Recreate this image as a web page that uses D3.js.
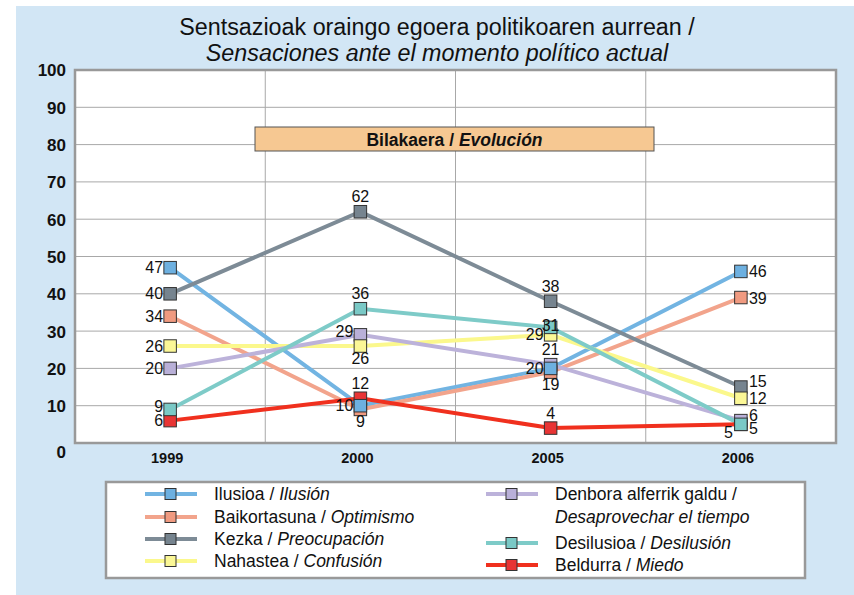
<!DOCTYPE html>
<html lang="eu">
<head>
<meta charset="utf-8">
<script src="https://d3js.org/d3.v7.min.js"></script>
<style>
  body { margin: 0; background: #fff; }
  text { font-family: "Liberation Sans", Arial, sans-serif; }
</style>
</head>
<body>
<div id="canvas"></div>
<script>
  // data
  var years = ["1999", "2000", "2005", "2006"];
  var yTicks = [0, 10, 20, 30, 40, 50, 60, 70, 80, 90, 100];

  var ilusioa      = [47, 10, 20, 46];
  var baikortasuna = [34, 9, 19, 39];
  var kezka        = [40, 62, 38, 15];
  var nahastea     = [26, 26, 29, 12];
  var denbora      = [20, 29, 21, 6];
  var desilusioa   = [9, 36, 31, 5];
  var beldurra     = [6, 12, 4, 5];

  // where each value label sits relative to its marker
  var labelSide = {
    ilusioa:      ["l", "l", "l", "r"],
    baikortasuna: ["l", "b", "b", "r"],
    kezka:        ["l", "t", "t", "rt"],
    nahastea:     ["l", "b", "l", "r"],
    denbora:      ["l", "tl", "t", "rt"],
    desilusioa:   ["lu", "t", "c", "rb"],
    beldurra:     ["l", "t", "t", "bl"]
  };

  var series = [
    { key: "ilusioa", eu: "Ilusioa", es: "Ilusión", values: ilusioa, color: "#6db0e0", line: "#72b4e2" },
    { key: "baikortasuna", eu: "Baikortasuna", es: "Optimismo", values: baikortasuna, color: "#f09a80", line: "#f2a48c" },
    { key: "kezka", eu: "Kezka", es: "Preocupación", values: kezka, color: "#76848f", line: "#7d8b96" },
    { key: "nahastea", eu: "Nahastea", es: "Confusión", values: nahastea, color: "#fbf796", line: "#fbf88c" },
    { key: "denbora", eu: "Denbora alferrik galdu", es: "Desaprovechar el tiempo", values: denbora, color: "#b9b0d8", line: "#bcb2da" },
    { key: "desilusioa", eu: "Desilusioa", es: "Desilusión", values: desilusioa, color: "#7ac9c6", line: "#7ecbc8" },
    { key: "beldurra", eu: "Beldurra", es: "Miedo", values: beldurra, color: "#e83434", line: "#f0301e" }
  ];
  var markerOrder = ["kezka", "baikortasuna", "beldurra", "denbora", "nahastea", "desilusioa", "ilusioa"];

  var W = 854, H = 595;
  var svg = d3.select("#canvas").append("svg")
      .attr("width", W)
      .attr("height", H);

  svg.append("rect")
      .attr("x", 16).attr("y", 6)
      .attr("width", W - 16).attr("height", H - 6)
      .attr("fill", "#d2e6f5");

  // title
  svg.append("text")
      .attr("x", 437).attr("y", 34.5)
      .attr("text-anchor", "middle")
      .attr("font-size", 23.3)
      .attr("fill", "#111")
      .text("Sentsazioak oraingo egoera politikoaren aurrean /");
  svg.append("text")
      .attr("x", 437).attr("y", 60.5)
      .attr("text-anchor", "middle")
      .attr("font-size", 23.3)
      .attr("font-style", "italic")
      .attr("fill", "#111")
      .text("Sensaciones ante el momento político actual");

  var plot = { left: 75, top: 70, right: 836, bottom: 443 };

  var x = d3.scaleBand().domain(years).range([plot.left, plot.right]);
  var y = d3.scaleLinear().domain([0, 100]).range([plot.bottom, plot.top]);
  var cx = function (i) { return x(years[i]) + x.bandwidth() / 2; };

  svg.append("rect")
      .attr("x", plot.left).attr("y", plot.top)
      .attr("width", plot.right - plot.left).attr("height", plot.bottom - plot.top)
      .attr("fill", "#fff");

  // gridlines
  svg.append("g")
      .selectAll("line")
      .data(yTicks.slice(1, -1))
      .enter().append("line")
      .attr("x1", plot.left).attr("x2", plot.right)
      .attr("y1", function (d) { return y(d); })
      .attr("y2", function (d) { return y(d); })
      .attr("stroke", "#a8a8a8")
      .attr("stroke-width", 1);
  svg.append("g")
      .selectAll("line")
      .data(years.slice(1))
      .enter().append("line")
      .attr("x1", function (d) { return x(d); })
      .attr("x2", function (d) { return x(d); })
      .attr("y1", plot.top).attr("y2", plot.bottom)
      .attr("stroke", "#a8a8a8")
      .attr("stroke-width", 1);

  // frame
  svg.append("rect")
      .attr("x", plot.left).attr("y", plot.top)
      .attr("width", plot.right - plot.left).attr("height", plot.bottom - plot.top)
      .attr("fill", "none")
      .attr("stroke", "#999")
      .attr("stroke-width", 2.5);

  // y axis
  var yAxis = svg.append("g")
      .attr("transform", "translate(" + plot.left + ",0)")
      .call(d3.axisLeft(y).tickValues(yTicks).tickSize(0).tickPadding(9));
  yAxis.select(".domain").remove();
  yAxis.selectAll("text")
      .attr("font-family", "Liberation Sans, Arial, sans-serif")
      .attr("font-size", 17)
      .attr("font-weight", "bold")
      .attr("fill", "#111")
      .attr("dy", function (d) { return d === 0 ? "0.85em" : "0.35em"; });

  // x axis
  var xAxis = svg.append("g")
      .attr("transform", "translate(-3," + plot.bottom + ")")
      .call(d3.axisBottom(x).tickSize(0).tickPadding(10));
  xAxis.select(".domain").remove();
  xAxis.selectAll("text")
      .attr("font-family", "Liberation Sans, Arial, sans-serif")
      .attr("font-size", 14.5)
      .attr("font-weight", "bold")
      .attr("fill", "#111");

  // annotation box
  svg.append("rect")
      .attr("x", 255).attr("y", 127)
      .attr("width", 399).attr("height", 24)
      .attr("fill", "#f6c892")
      .attr("stroke", "#555")
      .attr("stroke-width", 1);
  var ann = svg.append("text")
      .attr("x", 454.5).attr("y", 146)
      .attr("text-anchor", "middle")
      .attr("font-size", 17.5)
      .attr("font-weight", "bold")
      .attr("fill", "#111");
  ann.append("tspan").text("Bilakaera / ");
  ann.append("tspan").attr("font-style", "italic").text("Evolución");

  // lines
  var line = d3.line()
      .x(function (d, i) { return cx(i); })
      .y(function (d) { return y(d); });

  svg.append("g")
      .selectAll("path")
      .data(series)
      .enter().append("path")
      .attr("d", function (s) { return line(s.values); })
      .attr("fill", "none")
      .attr("stroke", function (s) { return s.line; })
      .attr("stroke-width", 4);

  // markers
  var ms = 12.5;
  var byKey = {};
  series.forEach(function (s) { byKey[s.key] = s; });
  var markerData = [];
  markerOrder.forEach(function (k) {
    byKey[k].values.forEach(function (v, i) {
      markerData.push({ s: byKey[k], v: v, i: i });
    });
  });
  svg.append("g")
      .selectAll("rect")
      .data(markerData)
      .enter().append("rect")
      .attr("x", function (d) { return cx(d.i) - ms / 2; })
      .attr("y", function (d) { return y(d.v) - ms / 2; })
      .attr("width", ms).attr("height", ms)
      .attr("fill", function (d) { return d.s.color; })
      .attr("stroke", "#333")
      .attr("stroke-width", 1);

  // value labels
  function labelPos(d) {
    var side = labelSide[d.s.key][d.i];
    var px = cx(d.i), py = y(d.v);
    var o = { x: px, y: py + 5, anchor: "middle" };
    if (side === "l") { o.x = px - 7; o.y = py + 5.5; o.anchor = "end"; }
    if (side === "lu") { o.x = px - 7; o.y = py + 3; o.anchor = "end"; }
    if (side === "r") { o.x = px + 8; o.y = py + 6; o.anchor = "start"; }
    if (side === "t") { o.y = py - 9.5; }
    if (side === "b") { o.y = py + 18; }
    if (side === "c") { o.y = py + 3.5; }
    if (side === "tl") { o.x = px - 7; o.y = py + 2; o.anchor = "end"; }
    if (side === "rt") { o.x = px + 8; o.y = py; o.anchor = "start"; }
    if (side === "rb") { o.x = px + 8; o.y = py + 10; o.anchor = "start"; }
    if (side === "bl") { o.x = px - 8; o.y = py + 14; o.anchor = "end"; }
    return o;
  }
  svg.append("g")
      .selectAll("text")
      .data(markerData)
      .enter().append("text")
      .each(function (d) {
        var p = labelPos(d);
        d3.select(this)
            .attr("x", p.x).attr("y", p.y)
            .attr("text-anchor", p.anchor);
      })
      .attr("font-size", 16)
      .attr("fill", "#111")
      .text(function (d) { return d.v; });

  // legend
  svg.append("rect")
      .attr("x", 106).attr("y", 482)
      .attr("width", 699).attr("height", 96)
      .attr("fill", "#fff")
      .attr("stroke", "#999")
      .attr("stroke-width", 2.5);

  var legendSlots = [
    { key: "ilusioa", x: 145, y: 494 },
    { key: "baikortasuna", x: 145, y: 517 },
    { key: "kezka", x: 145, y: 539 },
    { key: "nahastea", x: 145, y: 561 },
    { key: "denbora", x: 486, y: 494 },
    { key: "desilusioa", x: 486, y: 543 },
    { key: "beldurra", x: 486, y: 565 }
  ];
  var lg = svg.append("g")
      .selectAll("g")
      .data(legendSlots)
      .enter().append("g")
      .attr("transform", function (d) { return "translate(" + d.x + "," + d.y + ")"; });
  lg.append("line")
      .attr("x1", 0).attr("x2", 52)
      .attr("stroke", function (d) { return byKey[d.key].line; })
      .attr("stroke-width", 4);
  lg.append("rect")
      .attr("x", 20).attr("y", -5.5)
      .attr("width", 11).attr("height", 11)
      .attr("fill", function (d) { return byKey[d.key].color; })
      .attr("stroke", "#333")
      .attr("stroke-width", 1);
  lg.each(function (d) {
    var s = byKey[d.key];
    var g = d3.select(this);
    if (d.key === "denbora") {
      g.append("text").attr("x", 69).attr("y", 6)
          .attr("font-size", 17.5).attr("fill", "#111")
          .text(s.eu + " /");
      g.append("text").attr("x", 69).attr("y", 29)
          .attr("font-size", 17.5).attr("font-style", "italic").attr("fill", "#111")
          .text(s.es);
    } else {
      var t = g.append("text").attr("x", 69).attr("y", 6)
          .attr("font-size", 17.5).attr("fill", "#111");
      t.append("tspan").text(s.eu + " / ");
      t.append("tspan").attr("font-style", "italic").text(s.es);
    }
  });
</script>
</body>
</html>
